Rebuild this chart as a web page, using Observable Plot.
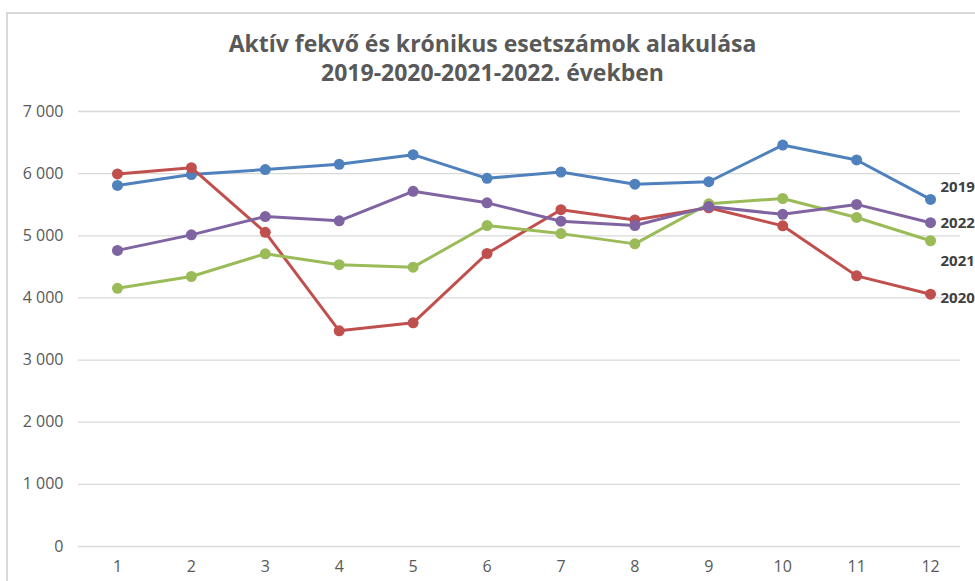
<!DOCTYPE html>
<html>
<head>
<meta charset="utf-8">
<script src="https://cdn.jsdelivr.net/npm/d3@7"></script>
<script src="https://cdn.jsdelivr.net/npm/@observablehq/plot@0.6"></script>
<style>
  html, body { margin: 0; padding: 0; background: white; }
  #wrap { position: relative; width: 975px; height: 581px; overflow: hidden; background: white; }
  #frame { position: absolute; left: 6px; top: 12px; width: 1000px; height: 600px;
           border-top: 2px solid #d9d9d9; border-left: 2px solid #d9d9d9; }
  #title { position: absolute; left: 0; top: 29px; width: 985px; text-align: center;
           font-family: "Open Sans", sans-serif; font-weight: bold; font-size: 23px;
           line-height: 29px; color: #595959; }
  #chart { position: absolute; left: 0; top: 95px; }
  #chart svg { background: transparent !important; }
  #chart g[aria-label$="tick label"] { font-size: 16px !important; }
</style>
</head>
<body>
<div id="wrap">
  <div id="frame"></div>
  <div id="title">Aktív fekvő és krónikus esetszámok alakulása<br>2019-2020-2021-2022. években</div>
  <div id="chart"></div>
</div>
<script>
const months = [1, 2, 3, 4, 5, 6, 7, 8, 9, 10, 11, 12];
const series = ["2019", "2020", "2021", "2022"];
const v2019 = [5810, 5985, 6065, 6150, 6305, 5925, 6025, 5830, 5870, 6460, 6220, 5585];
const v2020 = [5995, 6095, 5055, 3470, 3600, 4715, 5420, 5255, 5450, 5160, 4355, 4060];
const v2021 = [4155, 4345, 4710, 4535, 4495, 5165, 5035, 4870, 5515, 5600, 5295, 4920];
const v2022 = [4765, 5015, 5310, 5240, 5715, 5530, 5235, 5165, 5470, 5345, 5505, 5210];
const yTicks = [0, 1000, 2000, 3000, 4000, 5000, 6000, 7000];
const colors = ["#4f81bd", "#c0504d", "#9bbb59", "#8064a2"];

const values = { "2019": v2019, "2020": v2020, "2021": v2021, "2022": v2022 };
const data = series.flatMap(s => months.map((m, i) => ({ series: s, month: m, value: values[s][i] })));
const last = data.filter(d => d.month === 12);

const fmt = d3.formatLocale({ thousands: " ", grouping: [3], decimal: "," }).format(",d");
const labelOffsets = { "2019": -12, "2020": 4, "2021": 20, "2022": 0 };

const marks = [
  Plot.ruleY(yTicks, { stroke: "#d9d9d9", strokeWidth: 1.3, insetRight: 7, insetLeft: -2 }),
  Plot.axisY(yTicks, { tickSize: 0, tickPadding: 17, tickFormat: fmt, fill: "#595959", label: null }),
  Plot.axisX(months, { tickSize: 0, tickPadding: 14, fill: "#595959", label: null })
];
for (const s of series) {
  const d = data.filter(r => r.series === s);
  marks.push(Plot.line(d, { x: "month", y: "value", stroke: "series", strokeWidth: 3 }));
  marks.push(Plot.dot(d, { x: "month", y: "value", fill: "series", r: 5.5 }));
}
for (const s of series) {
  marks.push(Plot.text(last.filter(r => r.series === s), {
    x: "month", y: "value", text: "series", textAnchor: "start",
    dx: 10, dy: labelOffsets[s], fontWeight: "bold", fontSize: 15, fill: "#404040"
  }));
}

const chart = Plot.plot({
  width: 975,
  height: 486,
  marginTop: 16,
  marginBottom: 35,
  marginLeft: 80,
  marginRight: 8,
  style: { fontFamily: "'Open Sans', sans-serif", background: "transparent" },
  x: { type: "point", domain: months, padding: 0.5, round: false },
  y: { domain: [0, 7000] },
  color: { domain: series, range: colors },
  marks
});
document.getElementById("chart").appendChild(chart);
</script>
</body>
</html>
